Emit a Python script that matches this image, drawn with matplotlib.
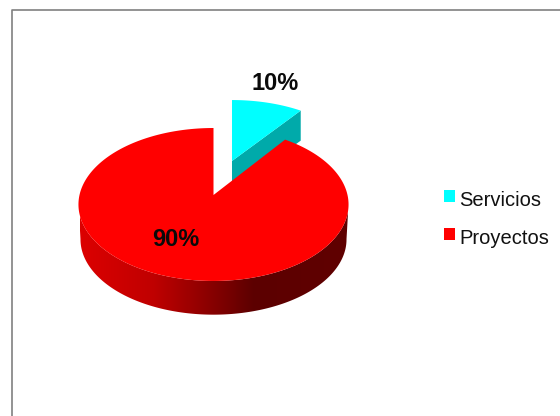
#!/usr/bin/env python
'''Share of Servicios and Proyectos as a tilted pie with an exploded slice.'''

import numpy as np
import matplotlib
matplotlib.use("Agg")
import matplotlib.pyplot as plt
from matplotlib.colors import LinearSegmentedColormap
from matplotlib.patches import Polygon, Rectangle

categories = ["Servicios", "Proyectos"]
values = [10, 90]
colors = ["#00FFFF", "#FF0000"]
wall_color = "#00AAAA"

# pie geometry, all in canvas pixels
APEX = (213.5, 195)
RX = 134
RY = 75.3
PERSP = 0.124
DEPTH = 35
EXPLODE = (18.5, -34)
EXPLODE_SCALE = (0.96, 0.91)

wall_cmap = LinearSegmentedColormap.from_list(
    "wall", [(0, "#DC0000"), (0.27, "#C00000"), (0.46, "#900000"),
             (0.65, "#5C0000"), (1, "#600000")])


def project(theta, apex=APEX, scale=(1.0, 1.0)):
    """Clockwise angle from the top -> canvas position on the tilted rim."""
    X, Y = np.sin(theta), np.cos(theta)
    w = 1 + PERSP * Y
    return apex[0] + scale[0] * RX * X / w, apex[1] - scale[1] * RY * Y / w


plt.rcParams['font.family'] = ['Liberation Sans', 'DejaVu Sans']
fig = plt.figure(figsize=(5.6, 4.16), dpi=100)
ax = fig.add_axes([0, 0, 1, 1])
ax.set_xlim(0, 560)
ax.set_ylim(416, 0)
ax.axis("off")

# outer frame, open on the right
ax.plot([11.5, 11.5, 560], [416, 9.5, 9.5], color="#808080", lw=1.2)

edges = np.cumsum([0] + values) / sum(values) * 2 * np.pi

# exploded slice first, the big one overlaps its wall
t = np.linspace(edges[0], edges[1], 40)
apex2 = (APEX[0] + EXPLODE[0], APEX[1] + EXPLODE[1])
rim_x, rim_y = project(t, apex2, EXPLODE_SCALE)
ax.add_patch(Polygon([apex2, (rim_x[-1], rim_y[-1]), (rim_x[-1], rim_y[-1] + 30),
                      (apex2[0], apex2[1] + 30)], color=wall_color, lw=0))
ax.add_patch(Polygon(np.column_stack([np.r_[apex2[0], rim_x], np.r_[apex2[1], rim_y]]),
                     color=colors[0], lw=0))

# side wall of the big slice: horizontal gradient clipped to the front of the rim
front = np.linspace(np.pi / 2 + 0.12, 3 * np.pi / 2 - 0.12, 200)
fx, fy = project(front)
bx, by = project(front, (APEX[0], APEX[1] + DEPTH), (0.985, 0.985))
wall = Polygon(np.column_stack([np.r_[fx, bx[::-1]], np.r_[fy, by[::-1]]]),
               transform=ax.transData, facecolor="none", lw=0)
ax.add_patch(wall)
shade = np.linspace(0, 1, 256).reshape(1, -1)
im = ax.imshow(shade, cmap=wall_cmap, extent=(80, 348, 330, 190), aspect="auto",
               interpolation="bilinear")
im.set_clip_path(wall)
ax.set_xlim(0, 560)
ax.set_ylim(416, 0)

# top face of the big slice
t = np.linspace(edges[1], edges[2], 361)
tx, ty = project(t)
ax.add_patch(Polygon(np.column_stack([np.r_[APEX[0], tx], np.r_[APEX[1], ty]]),
                     color=colors[1], lw=0, zorder=3))

# percentage labels
ax.text(275, 90, f"{values[0]}%", fontsize=17, fontweight="bold", color="#0A0A0A",
        ha="center", va="baseline", zorder=4)
ax.text(176, 246, f"{values[1]}%", fontsize=17, fontweight="bold", color="#0A0A0A",
        ha="center", va="baseline", zorder=4)

# legend
for name, col, y, base in zip(categories, colors, [196, 234], [205.5, 243.5]):
    ax.add_patch(Rectangle((444, y - 6), 11, 12, color=col, lw=0))
    ax.text(459, base, name, fontsize=14.5, color="#111111", ha="left", va="baseline")

fig.savefig("out.png", dpi=100)
